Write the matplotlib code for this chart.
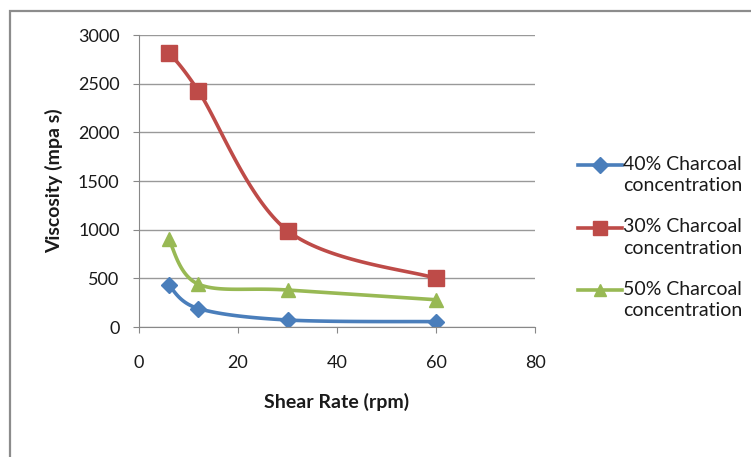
import numpy as np
import matplotlib.pyplot as plt
from matplotlib.patches import Rectangle
from matplotlib.lines import Line2D

plt.rcParams["font.family"] = ["Lato", "DejaVu Sans"]

shear_rate = [6, 12, 30, 60]
visc_40 = [430, 190, 72, 55]
visc_30 = [2820, 2425, 990, 500]
visc_50 = [900, 440, 380, 280]

labels = ["40% Charcoal\nconcentration", "30% Charcoal\nconcentration", "50% Charcoal\nconcentration"]
colors = ["#4A7EBB", "#BE4B48", "#98B954"]
markers = ["D", "s", "^"]
msizes = [8.5, 11, 10]

xmax, ymax = 80, 3000


def smooth(xs, ys, n=40):
    # Excel-like smoothed line: cubic Bezier with Catmull-Rom control points
    p = np.column_stack([np.asarray(xs, float) / xmax, np.asarray(ys, float) / ymax])
    out = []
    for i in range(len(p) - 1):
        p0 = p[i - 1] if i > 0 else p[i]
        p3 = p[i + 2] if i + 2 < len(p) else p[i + 1]
        c1 = p[i] + (p[i + 1] - p0) / 6
        c2 = p[i + 1] - (p3 - p[i]) / 6
        t = np.linspace(0, 1, n)[:, None]
        seg = ((1 - t) ** 3) * p[i] + 3 * ((1 - t) ** 2) * t * c1 + 3 * (1 - t) * t ** 2 * c2 + t ** 3 * p[i + 1]
        out.append(seg)
    out = np.vstack(out)
    return out[:, 0] * xmax, out[:, 1] * ymax


W, H = 751, 457
fig = plt.figure(figsize=(W / 100, H / 100), dpi=100)
fig.patches.append(Rectangle((10 / W, -0.1), 1.2, 1 - 11 / H + 0.1, transform=fig.transFigure,
                             fill=False, edgecolor="#8c8c8c", linewidth=1.6))

ax = fig.add_axes([139 / W, 1 - 327 / H, 396 / W, 292 / H])

for ys, c, m, ms in zip([visc_40, visc_30, visc_50], colors, markers, msizes):
    sx, sy = smooth(shear_rate, ys)
    ax.plot(sx, sy, color=c, linewidth=2.6, solid_capstyle="round")
    ax.plot(shear_rate, ys, linestyle="none", marker=m, markersize=ms, color=c)

ax.set_xlim(0, 80)
ax.set_ylim(0, 3000)
ax.set_xticks([0, 20, 40, 60, 80])
ax.set_yticks(np.arange(0, 3001, 500))
ax.grid(axis="y", color="#999999", linewidth=1)
ax.set_axisbelow(True)
for s in ["top", "right"]:
    ax.spines[s].set_visible(False)
for s in ["left", "bottom"]:
    ax.spines[s].set_color("#888888")
ax.tick_params(axis="both", colors="#888888", labelcolor="#1a1a1a", labelsize=13, length=4)
ax.tick_params(axis="y", pad=10)
ax.tick_params(axis="x", pad=16)

ax.set_xlabel("Shear Rate (rpm)", fontsize=14, fontweight="bold", labelpad=16, color="#1a1a1a")
ax.set_ylabel("Viscosity (mpa s)", fontsize=14, fontweight="bold", labelpad=11, color="#1a1a1a")

# legend drawn by hand: handle sits next to the first text line, like Excel
for i, (lab, c, m, ms) in enumerate(zip(labels, colors, markers, msizes)):
    yc = 1 - (165 + i * 62.5) / H
    fig.add_artist(Line2D([578 / W, 600 / W, 622 / W], [yc, yc, yc], transform=fig.transFigure,
                          color=c, linewidth=2.6, marker=m, markersize=ms * 0.9, markevery=[1]))
    fig.text(623 / W, yc + 9 / H, lab, fontsize=14, color="#1a1a1a", va="top", ha="left",
             linespacing=1.3)

fig.savefig("out.png", dpi=100)
